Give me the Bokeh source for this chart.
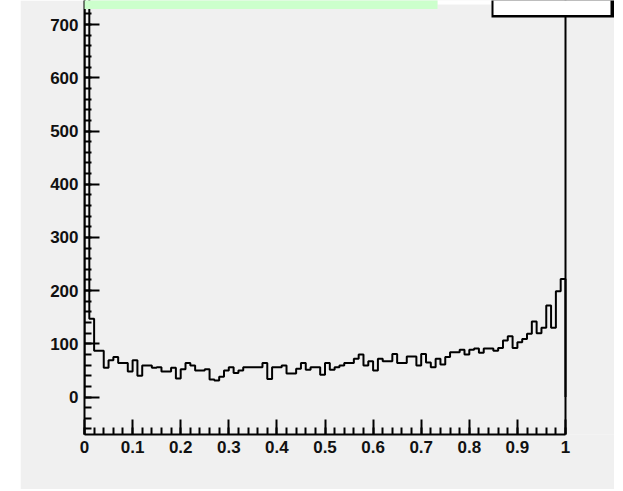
import numpy as np
from bokeh.plotting import figure
from bokeh.models import Range1d, FixedTicker, BoxAnnotation
from bokeh.embed import file_html
from bokeh.resources import INLINE

# ---- data ----
counts = [900, 147, 87, 87, 55, 69, 75, 64, 64, 48,
          69, 40, 59, 59, 55, 56, 48, 48, 55, 35,
          52, 64, 59, 50, 50, 52, 33, 31, 38, 50,
          56, 45, 50, 56, 56, 56, 56, 64, 34, 56,
          56, 59, 44, 44, 53, 64, 51, 56, 56, 42,
          64, 51, 56, 59, 64, 64, 72, 80, 59, 67,
          50, 72, 67, 67, 81, 64, 64, 76, 76, 59,
          81, 65, 56, 72, 61, 75, 84, 84, 89, 80,
          89, 91, 83, 91, 91, 87, 92, 106, 114, 92,
          103, 109, 119, 142, 120, 130, 172, 130, 199, 222]
bin_low, bin_high = 0.0, 1.0

x_ticks = [0, 0.1, 0.2, 0.3, 0.4, 0.5, 0.6, 0.7, 0.8, 0.9, 1]
x_tick_labels = ["0", "0.1", "0.2", "0.3", "0.4", "0.5", "0.6", "0.7", "0.8", "0.9", "1"]
x_minor_ticks = [round(i * 0.02, 2) for i in range(51)]
y_ticks = [0, 100, 200, 300, 400, 500, 600, 700]
y_tick_labels = ["0", "100", "200", "300", "400", "500", "600", "700"]
y_minor_ticks = list(range(-60, 741, 20))

# ---- geometry (page pixels) ----
PAGE_W, PAGE_H = 623, 491
ML, MT, MR, MB = 20, 0, 9, 2          # white page around the grey canvas
W, H = PAGE_W - ML - MR, PAGE_H - MT - MB
FL_PAGE, FB_PAGE = 84, 434            # frame left / bottom on the page
X0_PAGE, X1_PAGE = 84, 565            # data 0 and 1 on the page
Y0_PAGE, PX_PER_100 = 396.5, 53.2     # data 0 on the page, px per 100 counts

FR_PAGE = ML + W                       # frame runs to the canvas right edge
FT_PAGE = MT
XMIN = 0.0
XMAX = (FR_PAGE - X0_PAGE) / (X1_PAGE - X0_PAGE)
YMAX = (Y0_PAGE - FT_PAGE) / PX_PER_100 * 100
YMIN = -(FB_PAGE - Y0_PAGE) / PX_PER_100 * 100

def dx(px):
    return (px - X0_PAGE) / (X1_PAGE - X0_PAGE)

def dy(py):
    return (Y0_PAGE - py) / PX_PER_100 * 100

p = figure(width=W, height=H, output_backend="svg", toolbar_location=None,
           x_range=Range1d(XMIN, XMAX), y_range=Range1d(YMIN, YMAX),
           min_border_left=FL_PAGE - ML, min_border_right=0,
           min_border_top=0, min_border_bottom=H - (FB_PAGE - MT),
           background_fill_color="#f0f0f0", border_fill_color="#f0f0f0",
           outline_line_color=None, margin=(MT, MR, MB, ML))
p.grid.visible = False

p.xaxis.ticker = FixedTicker(ticks=x_ticks, minor_ticks=x_minor_ticks)
p.yaxis.ticker = FixedTicker(ticks=y_ticks, minor_ticks=y_minor_ticks)
p.xaxis.major_label_overrides = {t: l for t, l in zip(x_ticks, x_tick_labels)}
p.yaxis.major_label_overrides = {t: l for t, l in zip(y_ticks, y_tick_labels)}
p.xaxis.bounds = (bin_low, bin_high)

for ax in (p.xaxis[0], p.yaxis[0]):
    ax.axis_line_color = "black"
    ax.axis_line_width = 2
    ax.major_tick_in = 15
    ax.major_tick_out = 0
    ax.minor_tick_in = 7
    ax.minor_tick_out = 0
    ax.major_tick_line_width = 2
    ax.minor_tick_line_width = 2
    ax.major_tick_line_color = "black"
    ax.minor_tick_line_color = "black"
    ax.major_label_text_font = "Liberation Sans"
    ax.major_label_text_font_style = "bold"
    ax.major_label_text_font_size = "17px"
    ax.major_label_text_color = "#111111"
    ax.major_label_standoff = 6

# right frame edge at x = 1 (full frame height)
p.vspan(x=[bin_high], line_color="black", line_width=2)

# ---- histogram outline ----
edges = np.linspace(bin_low, bin_high, len(counts) + 1)
sx = [edges[0]] + list(edges[:-1]) + [edges[-1], edges[-1]]
sy = [0] + list(counts) + [counts[-1], 0]
p.step(sx, sy, mode="after", line_color="black", line_width=2)

# ---- decorations: white strip above the canvas, title box and stats box ----
def box(l, r, t, b, fill, line=None, lw=1):
    p.add_layout(BoxAnnotation(left=dx(l), right=dx(r), top=dy(t), bottom=dy(b),
                               fill_color=fill, fill_alpha=1.0,
                               line_color=line, line_alpha=1.0 if line else 0.0,
                               line_width=lw))

box(437, 491, -10, 4, "white")
box(55, 437, -10, 8.5, "#ccffcc")
box(491, 613.5, -10, 17, "black")
box(493, 610, -10, 14.5, "white")

open("out.html", "w").write(file_html(p, INLINE))
